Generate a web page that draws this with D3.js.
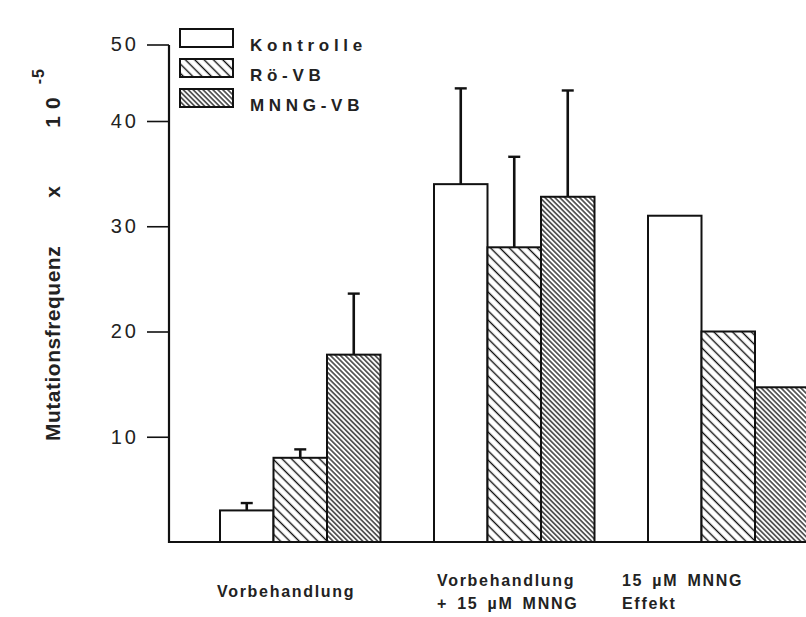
<!DOCTYPE html>
<html>
<head>
<meta charset="utf-8">
<script src="https://cdn.jsdelivr.net/npm/d3@7"></script>
<style>
  html, body { margin: 0; padding: 0; background: #fff; }
  svg { display: block; font-family: "Liberation Sans", Arial, Helvetica, sans-serif; }
</style>
</head>
<body>
<svg id="chart" width="806" height="617"></svg>
<script>
// Mutation frequency (x 10^-5) per treatment group and pretreatment series
const groups = ["Vorbehandlung", "Vorbehandlung + 15 µM MNNG", "15 µM MNNG Effekt"];
const groupLabelLines = [["Vorbehandlung"], ["Vorbehandlung", "+ 15 µM MNNG"], ["15 µM MNNG", "Effekt"]];
const series = ["Kontrolle", "Rö-VB", "MNNG-VB"];
const kontrolle = [3, 34, 31];
const roeVB = [8, 28, 20];
const mnngVB = [17.8, 32.8, 14.7];
// upper end of the error bars (null = no error bar)
const kontrolleErr = [3.7, 43.1, null];
const roeVBErr = [8.8, 36.6, null];
const mnngVBErr = [23.6, 42.9, null];
const yTicks = [10, 20, 30, 40];
const yTopLabel = "50";

const svg = d3.select("#chart");

const plotLeft = 169, plotBottom = 542, axisTop = 45;

const y = d3.scaleLinear().domain([0, 40]).range([plotBottom, 121]);
const x0 = d3.scaleBand().domain(groups).range([220, 808.5]).paddingInner(0.25).paddingOuter(0);
const x1 = d3.scaleBand().domain(series).range([0, x0.bandwidth()]).padding(0);

// hatch patterns
const defs = svg.append("defs");
function hatch(id, gap, width) {
  const p = defs.append("pattern")
    .attr("id", id)
    .attr("patternUnits", "userSpaceOnUse")
    .attr("width", gap).attr("height", 20)
    .attr("patternTransform", "rotate(-45)");
  p.append("rect").attr("width", gap).attr("height", 20).attr("fill", "#fff");
  p.append("line").attr("x1", gap / 2).attr("x2", gap / 2).attr("y1", 0).attr("y2", 20)
    .attr("stroke", "#111").attr("stroke-width", width);
}
hatch("hatchRoe", 6.6, 1.4);
hatch("hatchMnng", 3.5, 1.25);
const fills = { "Kontrolle": "#fff", "Rö-VB": "url(#hatchRoe)", "MNNG-VB": "url(#hatchMnng)" };

const rows = groups.map((g, i) => ({
  group: g,
  bars: [
    { s: "Kontrolle", v: kontrolle[i], e: kontrolleErr[i] },
    { s: "Rö-VB", v: roeVB[i], e: roeVBErr[i] },
    { s: "MNNG-VB", v: mnngVB[i], e: mnngVBErr[i] }
  ]
}));

const g = svg.append("g");
const grp = g.selectAll("g.grp").data(rows).join("g")
  .attr("class", "grp")
  .attr("transform", d => `translate(${x0(d.group)},0)`);

// error bars (upper half only), drawn first so the bars sit on top
grp.selectAll("g.err").data(d => d.bars.filter(b => b.e != null)).join("g")
  .attr("class", "err")
  .each(function (b) {
    const cx = x1(b.s) + x1.bandwidth() / 2;
    const sel = d3.select(this);
    sel.append("line").attr("x1", cx).attr("x2", cx)
      .attr("y1", y(b.v)).attr("y2", y(b.e))
      .attr("stroke", "#111").attr("stroke-width", 2.6);
    sel.append("line").attr("x1", cx - 6).attr("x2", cx + 6)
      .attr("y1", y(b.e)).attr("y2", y(b.e))
      .attr("stroke", "#111").attr("stroke-width", 2.4);
  });

grp.selectAll("rect.bar").data(d => d.bars).join("rect")
  .attr("class", "bar")
  .attr("x", b => x1(b.s))
  .attr("y", b => y(b.v))
  .attr("width", x1.bandwidth())
  .attr("height", b => y(0) - y(b.v))
  .attr("fill", b => fills[b.s])
  .attr("stroke", "#111")
  .attr("stroke-width", 2);

// axes
const yAxis = d3.axisLeft(y).tickValues(yTicks).tickSize(22).tickPadding(8);
const ya = svg.append("g").attr("transform", `translate(${plotLeft},0)`).call(yAxis);
ya.select(".domain").remove();
ya.selectAll(".tick line").attr("stroke", "#111").attr("stroke-width", 1.6);
ya.selectAll(".tick text")
  .attr("font-size", 20).attr("fill", "#222").attr("letter-spacing", "3px")
  .attr("font-family", "'Liberation Sans', Arial, sans-serif");

// top label of the axis
svg.append("line").attr("x1", plotLeft - 22).attr("x2", plotLeft)
  .attr("y1", axisTop).attr("y2", axisTop).attr("stroke", "#111").attr("stroke-width", 1.6);
svg.append("text").attr("x", plotLeft - 30).attr("y", axisTop).attr("dy", "0.32em")
  .attr("text-anchor", "end").attr("font-size", 20).attr("fill", "#222")
  .attr("letter-spacing", "3px").text(yTopLabel);

svg.append("line").attr("x1", plotLeft).attr("x2", plotLeft)
  .attr("y1", axisTop).attr("y2", plotBottom + 1).attr("stroke", "#111").attr("stroke-width", 2.2);
svg.append("line").attr("x1", plotLeft - 1).attr("x2", 806)
  .attr("y1", plotBottom).attr("y2", plotBottom).attr("stroke", "#111").attr("stroke-width", 2);

// y axis title
const title = svg.append("text")
  .attr("transform", `translate(60,441) rotate(-90)`)
  .attr("text-anchor", "start")
  .attr("font-size", 21).attr("font-weight", "bold").attr("fill", "#222")
  .attr("letter-spacing", "0.5px");
title.append("tspan").text("Mutationsfrequenz");
title.append("tspan").attr("dx", 48).text("x");
title.append("tspan").attr("dx", 58).attr("letter-spacing", "7px").text("10");
title.append("tspan").attr("dx", 6).attr("dy", -16).attr("font-size", 16).attr("letter-spacing", "1px").text("-5");

// group labels under the axis
const labelX = [217, 437, 622];
groupLabelLines.forEach((lines, i) => {
  const t = svg.append("text")
    .attr("x", labelX[i]).attr("y", 586)
    .attr("font-size", 16).attr("font-weight", "bold").attr("fill", "#222")
    .attr("letter-spacing", "1.7px").attr("word-spacing", "3px");
  lines.forEach((ln, j) => {
    t.append("tspan").attr("x", labelX[i]).attr("dy", j === 0 ? (i === 0 ? 11 : 0) : 23).text(ln);
  });
});

// legend
const legend = svg.append("g").attr("transform", "translate(180,29)");
const li = legend.selectAll("g").data(series).join("g")
  .attr("transform", (d, i) => `translate(0,${i * 30})`);
li.append("rect").attr("width", 53).attr("height", 18)
  .attr("fill", d => fills[d]).attr("stroke", "#111").attr("stroke-width", 2);
li.append("text").attr("x", 70).attr("y", 22)
  .attr("font-size", 17).attr("font-weight", "bold").attr("fill", "#222")
  .attr("letter-spacing", "4.7px").text(d => d);
</script>
</body>
</html>
